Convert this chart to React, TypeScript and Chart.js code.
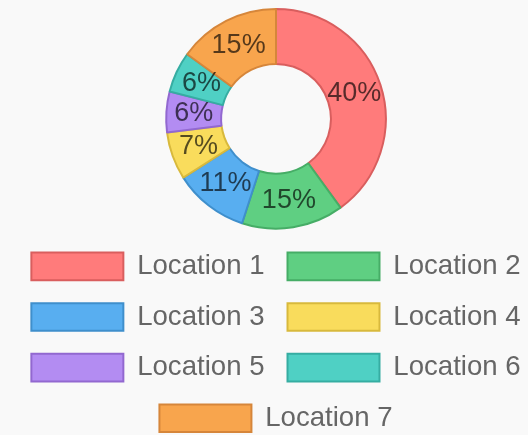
import React, { useEffect, useRef } from "react";
import { Chart, registerables } from "chart.js";

Chart.register(...registerables);

const labels = ["Location 1", "Location 2", "Location 3", "Location 4", "Location 5", "Location 6", "Location 7"];
const values = [40, 15, 11, 7, 6, 6, 15];
const fillColors = ["#ff7b7b", "#5fcf82", "#58aef0", "#f9dc5c", "#b38cf2", "#4fd0c4", "#f8a54d"];
const borderColors = ["#d95e5e", "#46ad66", "#3f8fcc", "#d8b93c", "#9268d0", "#36ada2", "#d6863a"];

const pctLabelPlugin = {
  id: "pctLabels",
  afterDatasetsDraw(chart: any) {
    const ctx = chart.ctx;
    const meta = chart.getDatasetMeta(0);
    const data = chart.data.datasets[0].data as number[];
    const total = data.reduce((a, b) => a + b, 0);
    ctx.save();
    ctx.font = "27px 'Liberation Sans', Arial, sans-serif";
    ctx.fillStyle = "rgba(0,0,0,0.66)";
    ctx.textAlign = "center";
    ctx.textBaseline = "middle";
    meta.data.forEach((arc: any, i: number) => {
      const p = arc.getCenterPoint();
      const pct = Math.round((data[i] / total) * 100);
      ctx.fillText(pct + "%", p.x, p.y);
    });
    ctx.restore();
  },
};

export default function App() {
  const ref = useRef<HTMLCanvasElement>(null);
  useEffect(() => {
    if (!ref.current) return;
    const chart = new Chart(ref.current, {
      type: "doughnut",
      data: {
        labels,
        datasets: [
          {
            data: values,
            backgroundColor: fillColors,
            borderColor: borderColors,
            borderWidth: 2,
          },
        ],
      },
      options: {
        responsive: true,
        maintainAspectRatio: false,
        animation: false,
        cutout: "50%",
        plugins: {
          tooltip: { enabled: false },
          legend: {
            position: "bottom",
            labels: {
              boxWidth: 92,
              boxHeight: 27.6,
              padding: 23,
              color: "#666",
              font: { size: 27.6, family: "'Liberation Sans', Arial, sans-serif" },
            },
          },
        },
      },
      plugins: [pctLabelPlugin],
    });
    return () => chart.destroy();
  }, []);
  return (
    <div style={{ width: 520, overflow: "hidden" }}>
      <style>{"html,body{overflow:hidden;background:#f9f9f9;}"}</style>
      <div style={{ position: "relative", width: 540, height: 434, marginLeft: -2 }}>
        <canvas ref={ref} />
      </div>
    </div>
  );
}
